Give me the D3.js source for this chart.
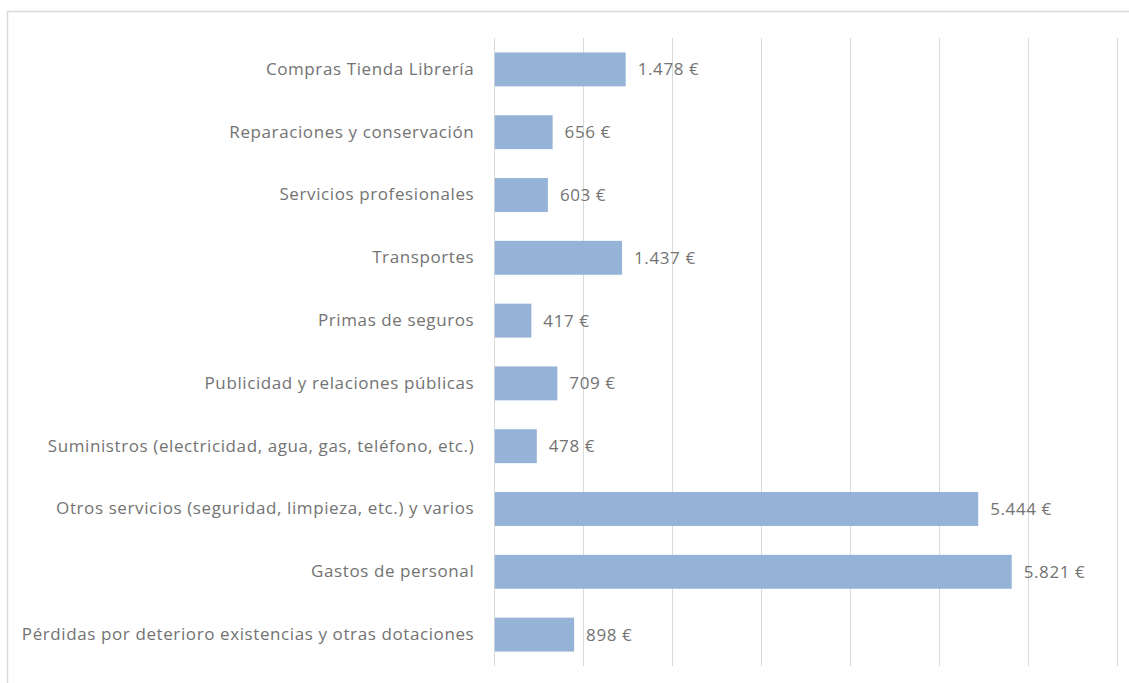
<!DOCTYPE html>
<html>
<head>
<meta charset="UTF-8">
<title>Gastos</title>
<script src="https://cdn.jsdelivr.net/npm/d3@7"></script>
<style>
  body { margin: 0; background: #fff; }
  .grid line { stroke: #d9d9d9; stroke-width: 1; }
  text { font-family: "Open Sans", "Noto Sans", sans-serif; fill: #737373; letter-spacing: 0.6px; }
</style>
</head>
<body>
<div id="chart"></div>
<script>
var categorias = [
  "Compras Tienda Librería",
  "Reparaciones y conservación",
  "Servicios profesionales",
  "Transportes",
  "Primas de seguros",
  "Publicidad y relaciones públicas",
  "Suministros (electricidad, agua, gas, teléfono, etc.)",
  "Otros servicios (seguridad, limpieza, etc.) y varios",
  "Gastos de personal",
  "Pérdidas por deterioro existencias y otras dotaciones"
];
var valores = [1478, 656, 603, 1437, 417, 709, 478, 5444, 5821, 898];
var ticks = [0, 1000, 2000, 3000, 4000, 5000, 6000, 7000];

var width = 1129, height = 683;
var margin = { top: 38, left: 494.3, right: 12.5, bottom: 17 };
var fontSize = "17px";

var es = d3.formatLocale({ decimal: ",", thousands: ".", grouping: [3], currency: ["", " €"] });
var fmt = es.format(",d");

var svg = d3.select("#chart").append("svg")
  .attr("width", width)
  .attr("height", height);

// marco
svg.append("rect")
  .attr("x", 7.5).attr("y", 11.5)
  .attr("width", width + 10).attr("height", height + 10)
  .attr("fill", "none")
  .attr("stroke", "#d9d9d9")
  .attr("stroke-width", 1.5);

var x = d3.scaleLinear()
  .domain([0, 7000])
  .range([margin.left, width - margin.right]);

var y = d3.scaleBand()
  .domain(categorias)
  .range([margin.top, height - margin.bottom])
  .paddingInner(0.46)
  .paddingOuter(0.23);

// rejilla
svg.append("g").attr("class", "grid")
  .selectAll("line")
  .data(ticks)
  .enter().append("line")
  .attr("x1", function(d) { return Math.round(x(d)) + 0.5; })
  .attr("x2", function(d) { return Math.round(x(d)) + 0.5; })
  .attr("y1", margin.top)
  .attr("y2", height - margin.bottom);

// barras
svg.append("g")
  .selectAll("rect")
  .data(valores)
  .enter().append("rect")
  .attr("x", x(0) + 0.5)
  .attr("y", function(d, i) { return y(categorias[i]); })
  .attr("width", function(d) { return x(d) - x(0) - 0.5; })
  .attr("height", y.bandwidth())
  .attr("fill", "#95b3d7");

// etiquetas de valor
svg.append("g")
  .selectAll("text")
  .data(valores)
  .enter().append("text")
  .attr("x", function(d) { return x(d) + 12; })
  .attr("y", function(d, i) { return y(categorias[i]) + y.bandwidth() / 2; })
  .attr("dy", "0.35em")
  .attr("font-size", fontSize)
  .text(function(d) { return fmt(d) + " €"; });

// eje y
var yAxis = d3.axisLeft(y).tickSize(0).tickPadding(20);
var gy = svg.append("g")
  .attr("transform", "translate(" + margin.left + ",0)")
  .call(yAxis);
gy.select(".domain").remove();
gy.selectAll("text")
  .attr("font-size", fontSize)
  .attr("fill", "#737373")
  .style("font-family", "'Open Sans', 'Noto Sans', sans-serif");
</script>
</body>
</html>
